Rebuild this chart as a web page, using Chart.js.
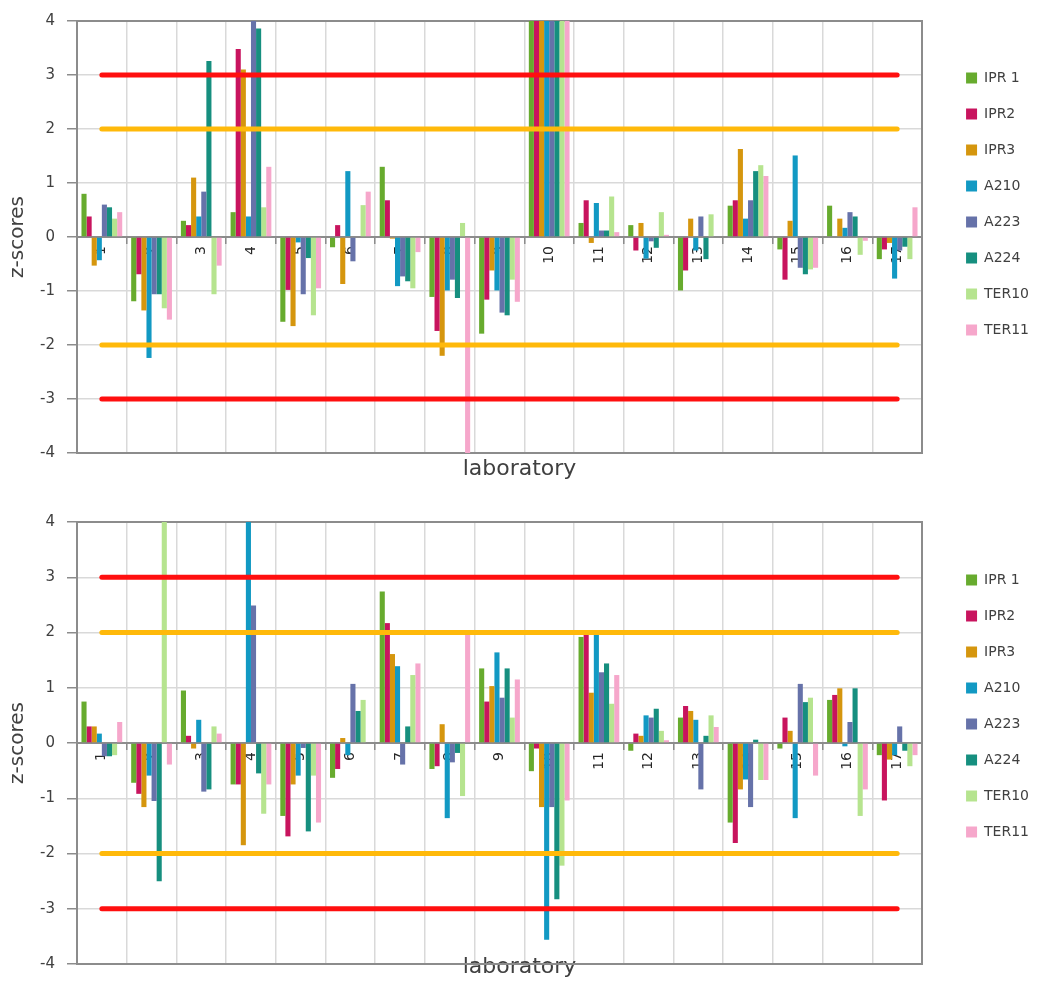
<!DOCTYPE html>
<html>
<head>
<meta charset="utf-8">
<script src="https://cdn.jsdelivr.net/npm/chart.js@4.4.0/dist/chart.umd.min.js"></script>
<style>
  html, body { margin: 0; padding: 0; background: #ffffff; overflow: hidden; }
  #c1 { position: absolute; left: 0; top: 0; }
  #c2 { position: absolute; left: 0; top: 490px; }
</style>
</head>
<body>
<canvas id="c1" width="1039" height="490"></canvas>
<canvas id="c2" width="1039" height="495"></canvas>
<script>
// ---------- data ----------
const labs = ['1','2','3','4','5','6','7','8','9','10','11','12','13','14','15','16','17'];
const seriesNames = ['IPR 1','IPR2','IPR3','A210','A223','A224','TER10','TER11'];
const yTicks = [-4,-3,-2,-1,0,1,2,3,4];
const limitRed = 3;
const limitOrange = 2;

// upper chart
const ipr1A  = [0.80,-1.19,0.30,0.46,-1.57,-0.19,1.30,-1.11,-1.79,4.8,0.26,0.22,-0.99,0.58,-0.23,0.58,-0.41];
const ipr2A  = [0.38,-0.69,0.22,3.48,-0.98,0.22,0.68,-1.74,-1.16,5.2,0.68,-0.25,-0.62,0.68,-0.79,0,-0.23];
const ipr3A  = [-0.53,-1.36,1.10,3.10,-1.65,-0.87,-0.03,-2.20,-0.62,4.5,-0.11,0.26,0.34,1.63,0.30,0.34,-0.11];
const a210A  = [-0.43,-2.24,0.38,0.38,-0.10,1.22,-0.91,-0.99,-0.99,5.5,0.63,-0.40,-0.25,0.34,1.51,0.17,-0.77];
const a223A  = [0.60,-1.06,0.84,4.6,-1.06,-0.45,-0.73,-0.79,-1.40,6.0,0.12,-0.08,0.38,0.68,-0.57,0.46,-0.25];
const a224A  = [0.55,-1.06,3.26,3.86,-0.39,0,-0.82,-1.13,-1.45,4.9,0.12,-0.20,-0.41,1.22,-0.69,0.38,-0.18];
const ter10A = [0.34,-1.32,-1.06,0.55,-1.45,0.59,-0.95,0.26,-0.79,5.1,0.75,0.46,0.42,1.33,-0.60,-0.33,-0.41];
const ter11A = [0.46,-1.53,-0.53,1.30,-0.95,0.84,-0.28,-4.4,-1.20,4.7,0.09,0.04,0,1.13,-0.57,-0.07,0.55];

// lower chart
const ipr1B  = [0.75,-0.72,0.95,-0.75,-1.32,-0.63,2.74,-0.47,1.35,-0.51,1.92,-0.14,0.46,-1.44,-0.10,0.78,-0.22];
const ipr2B  = [0.30,-0.92,0.13,-0.75,-1.69,-0.47,2.17,-0.42,0.75,-0.10,1.97,0.17,0.67,-1.81,0.46,0.87,-1.04];
const ipr3B  = [0.30,-1.16,-0.10,-1.85,-0.75,0.09,1.61,0.34,1.03,-1.16,0.91,0.13,0.58,-0.84,0.22,0.99,-0.30];
const a210B  = [0.17,-0.59,0.42,4.7,-0.59,-0.22,1.39,-1.36,1.64,-3.56,1.97,0.50,0.42,-0.66,-1.36,-0.06,-0.22];
const a223B  = [-0.24,-1.05,-0.88,2.49,-0.09,1.07,-0.39,-0.35,0.82,-1.16,1.28,0.46,-0.84,-1.16,1.07,0.38,0.30];
const a224B  = [-0.24,-2.50,-0.84,-0.55,-1.60,0.58,0.30,-0.18,1.35,-2.83,1.44,0.62,0.13,0.06,0.74,0.99,-0.14];
const ter10B = [-0.22,4.6,0.30,-1.28,-0.59,0.78,1.23,-0.96,0.46,-2.22,0.71,0.22,0.50,-0.67,0.82,-1.32,-0.42];
const ter11B = [0.38,-0.39,0.17,-0.75,-1.44,0,1.44,1.98,1.15,-1.04,1.23,0.05,0.29,-0.67,-0.59,-0.84,-0.22];

// ---------- styles ----------
const seriesColors = ['#67AB2E','#C8145E','#D5960E','#1299C3','#6672A9','#168F7F','#B6E48F','#F6A7CB'];
const redColor = '#FF0F0F';
const orangeColor = '#FFB90A';
const FONT = 'DejaVu Sans';
const GRID = '#d9d9d9';
const AXIS = '#8c8c8c';
const PLOT_RIGHT = 922;
const PLOT_LEFT = 77;

Chart.defaults.font.family = FONT;

const frame = {
  id: 'frame',
  beforeDatasetsDraw(chart) {
    const a = chart.chartArea, ctx = chart.ctx;
    ctx.save();
    ctx.strokeStyle = AXIS;
    ctx.lineWidth = 2;
    ctx.strokeRect(a.left, a.top, a.right - a.left, a.bottom - a.top);
    ctx.restore();
  }
};

function limitSet(v, color) {
  return {
    type: 'line',
    data: labs.map(() => v),
    borderColor: color,
    backgroundColor: color,
    borderWidth: 5,
    borderCapStyle: 'round',
    pointRadius: 0,
    fill: false,
    order: 0
  };
}

function makeChart(id, series, padTop, titlePad, legendTitlePad) {
  const datasets = series.map((d, i) => ({
    type: 'bar',
    label: seriesNames[i],
    data: d,
    backgroundColor: seriesColors[i],
    borderWidth: 0,
    categoryPercentage: 0.82,
    barPercentage: 1.0,
    order: 1
  }));
  datasets.push(limitSet(limitRed, redColor));
  datasets.push(limitSet(limitOrange, orangeColor));
  datasets.push(limitSet(-limitOrange, orangeColor));
  datasets.push(limitSet(-limitRed, redColor));

  return new Chart(document.getElementById(id), {
    type: 'bar',
    data: { labels: labs, datasets },
    options: {
      responsive: false,
      animation: false,
      devicePixelRatio: 1,
      layout: { padding: { top: padTop, left: 0, right: 0, bottom: 0 } },
      plugins: {
        tooltip: { enabled: false },
        legend: {
          position: 'right',
          align: 'start',
          title: { display: true, text: ' ', font: { size: 10 }, padding: { top: legendTitlePad, bottom: 0 } },
          labels: {
            boxWidth: 11,
            boxHeight: 11,
            padding: 22,
            color: '#404040',
            font: { family: FONT, size: 14 },
            filter: (item) => item.datasetIndex < seriesNames.length
          }
        },
        title: {
          display: true,
          position: 'bottom',
          text: 'laboratory',
          color: '#404040',
          font: { family: FONT, size: 22, weight: 'normal' },
          padding: titlePad
        }
      },
      scales: {
        x: {
          type: 'category',
          position: { y: 0 },
          offset: true,
          grid: { display: true, offset: true, color: GRID, lineWidth: 1.5, tickLength: 6, tickColor: AXIS, tickWidth: 1.5 },
          border: { display: true, color: AXIS, width: 2 },
          ticks: {
            autoSkip: false, minRotation: 90, maxRotation: 90, padding: 3,
            color: '#262626', font: { family: FONT, size: 14 }
          }
        },
        y: {
          type: 'linear',
          position: 'left',
          min: -4, max: 4,
          afterBuildTicks: (s) => { s.ticks = yTicks.map(v => ({ value: v })); },
          afterFit: (s) => { s.width = PLOT_LEFT; },
          grid: { color: GRID, lineWidth: 1.5, tickLength: 10, tickColor: AXIS, tickWidth: 1.5 },
          border: { display: true, color: AXIS, width: 2 },
          ticks: { padding: 12, color: '#404040', font: { family: FONT, size: 15 } },
          title: {
            display: true, text: 'z-scores', color: '#404040',
            font: { family: FONT, size: 20 }, padding: { top: 6, bottom: 0 }
          }
        },
        gap: {
          type: 'linear',
          position: 'right',
          display: true,
          grid: { display: false, drawTicks: false },
          border: { display: false },
          ticks: { display: false },
          afterFit: (s) => {
            const lw = s.chart.legend ? s.chart.legend.width : 95;
            s.width = Math.max(0, s.chart.width - lw - PLOT_RIGHT);
          }
        }
      }
    },
    plugins: [frame]
  });
}

makeChart('c1', [ipr1A, ipr2A, ipr3A, a210A, a223A, a224A, ter10A, ter11A], 19, { top: 2.8, bottom: 7.8 }, 18);
makeChart('c2', [ipr1B, ipr2B, ipr3B, a210B, a223B, a224B, ter10B, ter11B], 32, { top: -10.2, bottom: 1.8 }, 17);
</script>
</body>
</html>
